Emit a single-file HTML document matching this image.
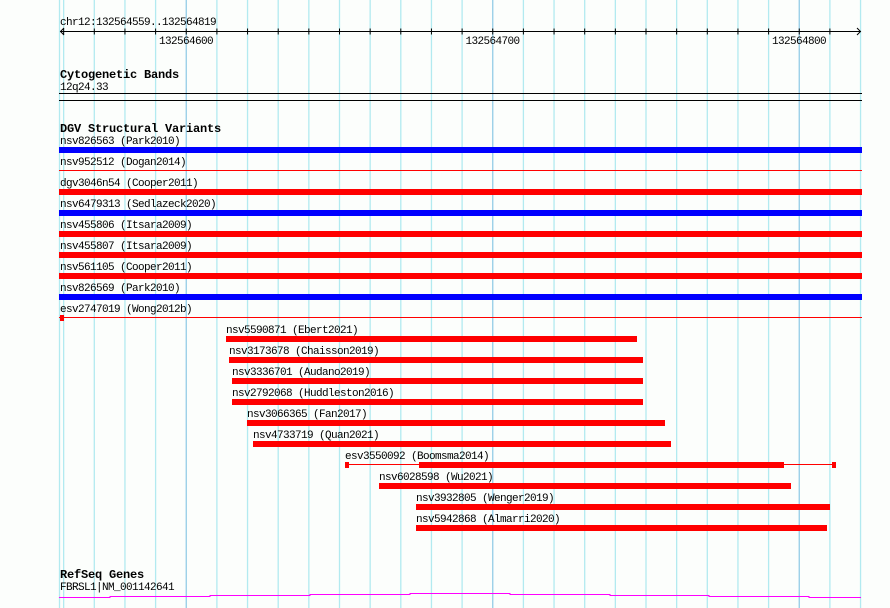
<!DOCTYPE html>
<html><head><meta charset="utf-8"><style>
html,body{margin:0;padding:0;background:#fcfefc;}
svg{display:block;}
text{font-family:"Liberation Mono",monospace;font-size:11px;letter-spacing:-0.6px;fill:#000;}
.b{font-weight:bold;font-size:12px;letter-spacing:-0.2px;}
</style></head><body>
<svg width="890" height="608" xmlns="http://www.w3.org/2000/svg">
<rect width="890" height="608" fill="#fcfefc"/>
<path stroke="#b2eaf0" stroke-width="1.3" fill="none" d="M59.5 0V608M63.65 0V608M94.3 0V608M124.95 0V608M155.6 0V608M216.9 0V608M247.55 0V608M278.2 0V608M308.85 0V608M339.5 0V608M370.15 0V608M400.8 0V608M431.45 0V608M462.1 0V608M523.4 0V608M554.05 0V608M584.7 0V608M615.35 0V608M646 0V608M676.65 0V608M707.3 0V608M737.95 0V608M768.6 0V608M829.9 0V608M860.55 0V608"/>
<path stroke="#94cce6" stroke-width="1.3" fill="none" d="M186.25 0V608M492.75 0V608M799.25 0V608"/>
<path stroke="#000" stroke-width="1" fill="none" d="M63.65 28.5V34.5M94.3 28.5V34.5M124.95 28.5V34.5M155.6 28.5V34.5M186.25 28.5V34.5M216.9 28.5V34.5M247.55 28.5V34.5M278.2 28.5V34.5M308.85 28.5V34.5M339.5 28.5V34.5M370.15 28.5V34.5M400.8 28.5V34.5M431.45 28.5V34.5M462.1 28.5V34.5M492.75 28.5V34.5M523.4 28.5V34.5M554.05 28.5V34.5M584.7 28.5V34.5M615.35 28.5V34.5M646 28.5V34.5M676.65 28.5V34.5M707.3 28.5V34.5M737.95 28.5V34.5M768.6 28.5V34.5M799.25 28.5V34.5M829.9 28.5V34.5"/>
<text x="60" y="25">chr12:132564559..132564819</text>
<line x1="60" y1="31.5" x2="861" y2="31.5" stroke="#000"/>
<polyline points="64,28 60.5,31.5 64,35" fill="none" stroke="#000"/>
<polyline points="857,28 860.5,31.5 857,35" fill="none" stroke="#000"/>
<text x="186" y="44" text-anchor="middle">132564600</text>
<text x="492.5" y="44" text-anchor="middle">132564700</text>
<text x="799" y="44" text-anchor="middle">132564800</text>

<text class="b" x="60" y="78">Cytogenetic Bands</text>
<text x="60" y="90">12q24.33</text>
<line x1="59" y1="93.5" x2="862" y2="93.5" stroke="#000"/>
<line x1="59" y1="100.5" x2="862" y2="100.5" stroke="#000"/>

<text class="b" x="60" y="132">DGV Structural Variants</text>
<g>
<text x="60" y="144">nsv826563 (Park2010)</text><rect x="59" y="147" width="803" height="6" fill="#0000ff"/>
<text x="60" y="165">nsv952512 (Dogan2014)</text><rect x="59" y="170" width="803" height="1" fill="#ff0000"/>
<text x="60" y="186">dgv3046n54 (Cooper2011)</text><rect x="59" y="189" width="803" height="6" fill="#ff0000"/>
<text x="60" y="207">nsv6479313 (Sedlazeck2020)</text><rect x="59" y="210" width="803" height="6" fill="#0000ff"/>
<text x="60" y="228">nsv455806 (Itsara2009)</text><rect x="59" y="231" width="803" height="6" fill="#ff0000"/>
<text x="60" y="249">nsv455807 (Itsara2009)</text><rect x="59" y="252" width="803" height="6" fill="#ff0000"/>
<text x="60" y="270">nsv561105 (Cooper2011)</text><rect x="59" y="273" width="803" height="6" fill="#ff0000"/>
<text x="60" y="291">nsv826569 (Park2010)</text><rect x="59" y="294" width="803" height="6" fill="#0000ff"/>
<text x="60" y="312">esv2747019 (Wong2012b)</text><rect x="59" y="317" width="803" height="1" fill="#ff0000"/><rect x="60" y="315" width="4" height="6" fill="#ff0000"/>

<text x="226" y="333">nsv5590871 (Ebert2021)</text><rect x="226" y="336" width="411" height="6" fill="#ff0000"/>
<text x="229" y="354">nsv3173678 (Chaisson2019)</text><rect x="229" y="357" width="414" height="6" fill="#ff0000"/>
<text x="232" y="375">nsv3336701 (Audano2019)</text><rect x="232" y="378" width="411" height="6" fill="#ff0000"/>
<text x="232" y="396">nsv2792068 (Huddleston2016)</text><rect x="232" y="399" width="411" height="6" fill="#ff0000"/>
<text x="247" y="417">nsv3066365 (Fan2017)</text><rect x="247" y="420" width="418" height="6" fill="#ff0000"/>
<text x="253" y="438">nsv4733719 (Quan2021)</text><rect x="253" y="441" width="418" height="6" fill="#ff0000"/>
<text x="345" y="459">esv3550092 (Boomsma2014)</text>
<rect x="345" y="462" width="4" height="6" fill="#ff0000"/><rect x="349" y="464" width="70" height="1" fill="#ff0000"/><rect x="419" y="462" width="365" height="6" fill="#ff0000"/><rect x="784" y="464" width="48" height="1" fill="#ff0000"/><rect x="832" y="462" width="4" height="6" fill="#ff0000"/>
<text x="379" y="480">nsv6028598 (Wu2021)</text><rect x="379" y="483" width="412" height="6" fill="#ff0000"/>
<text x="416" y="501">nsv3932805 (Wenger2019)</text><rect x="416" y="504" width="414" height="6" fill="#ff0000"/>
<text x="416" y="522">nsv5942868 (Almarri2020)</text><rect x="416" y="525" width="411" height="6" fill="#ff0000"/>
</g>

<text class="b" x="60" y="578">RefSeq Genes</text>
<text x="60" y="590">FBRSL1|NM_001142641</text>
<polyline points="59,597.5 110,597.5 110,596.5 210,596.5 210,595.5 310,595.5 310,594.5 410,594.5 410,593.5 510,593.5 510,594.5 610,594.5 610,595.5 709,595.5 709,596.5 809,596.5 809,597.5 861,597.5" fill="none" stroke="#ff00ff" stroke-width="1"/>
</svg>
</body></html>
